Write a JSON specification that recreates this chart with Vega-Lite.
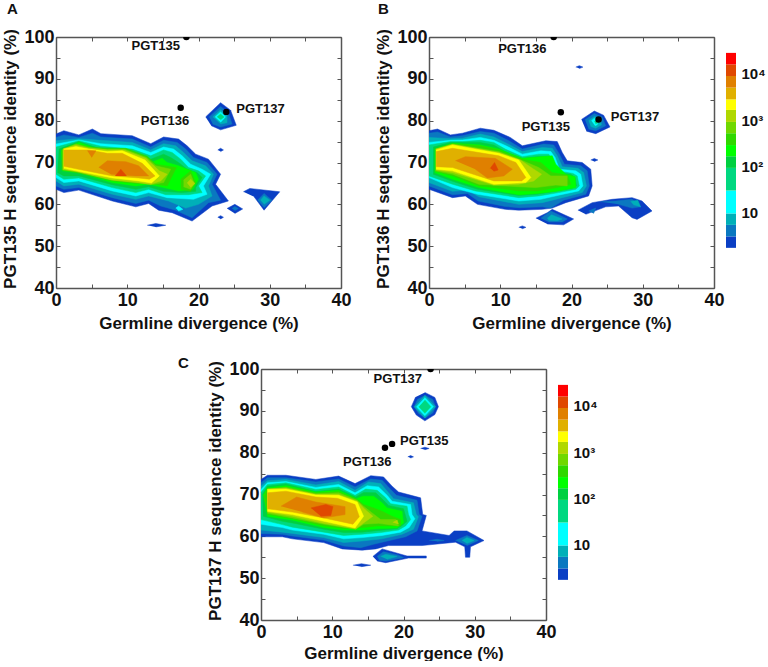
{
"$schema":"https://vega.github.io/schema/vega-lite/v6.json",
"background":"white",
"padding":{"left":1,"top":2,"right":5,"bottom":0},
"bounds":"flush",
"spacing":332,
"config":{"view":{"stroke":null},"font":"Liberation Sans","concat":{"spacing":12},
"axis":{"domainColor":"#555555","domainWidth":1.5,"tickColor":"#555555","tickWidth":1,"tickSize":-4,"grid":false,"labelFont":"Liberation Sans","labelFontWeight":"bold","labelFontSize":18,"labelColor":"#111111","titleFont":"Liberation Sans","titleFontWeight":"bold","titleFontSize":17,"titleColor":"#111111","labelPadding":7,"labelBound":false,"labelFlush":false,"labelOverlap":false},
"title":{"font":"Liberation Sans","fontWeight":"bold","fontSize":15,"color":"#111111","anchor":"start","frame":"group"}},
"datasets":{
"contours":[
{"panel":"A","shape":"A1","level":1,"x":[0,1.1,3.2,5.1,6.3,10.7,13.3,15.1,17.2,18.4,19.6,21.4,23.1,22.4,24.2,21.9,19.1,16.3,14.4,13,11.2,7.9,3.2,1.1,0],"y":[76.8,77.6,76.6,78,76.9,76.4,74.5,76.1,75.6,74,72,70.8,67.2,64.8,60.8,59.6,56,58,58.6,60.2,59.4,60.8,63.4,62.8,63.6]},
{"panel":"A","shape":"A2","level":2,"x":[0,1.1,3.2,5.1,6.3,10.7,13.3,15.1,17,18.2,19.3,21.2,22.6,21.9,23.1,21.4,19.1,16.8,14.7,13,11.2,7.9,3.2,1.1,0],"y":[76,76.6,76,77,76.1,75.6,73.7,75.3,74.8,73.2,71.2,70,67.2,64.8,61,60.4,56.8,58.6,59.6,61,60.2,61.6,64,63.6,64.4]},
{"panel":"A","shape":"A3","level":3,"x":[0,3.2,6.3,10.7,13.3,15.1,16.8,17.9,19.1,21,22.1,21.4,21.9,20,18.2,15.8,13,11.2,7.9,3.2,1.1,0],"y":[75.2,75.7,75.3,74.8,73,74.5,74,72.4,70.4,69.2,67.2,64.4,62,60,59.1,60.8,62,61.2,62.4,64.8,64.4,65.6]},
{"panel":"A","shape":"A4","level":4,"x":[0,3.2,6.3,10.7,13.3,15.1,16.5,17.7,18.9,20.5,21.7,20.7,21.2,19.3,15.6,13,11.2,7.9,3.2,1.1,0],"y":[74.4,75.4,74.5,74,72.4,73.7,73.2,71.6,69.6,68.4,67.2,64.4,62.4,61.2,61.6,62.8,62,63.2,65.6,65.2,66.4]},
{"panel":"A","shape":"A4b","level":4,"x":[16.8,17.2,17.8,17.2],"y":[59.1,59.6,58.8,58.4]},
{"panel":"A","shape":"A5","level":5,"x":[0,3.2,6.3,10.7,13.3,15.1,16.3,17.5,18.6,20,21,20,20.5,18.6,15.4,13,11.2,7.9,3.2,1.1,0],"y":[73.7,75.2,73.9,73.2,71.6,73,72.4,70.8,68.8,68,66.8,64.4,62.8,62.3,62.3,63.6,62.8,64,66.3,66,67.2]},
{"panel":"A","shape":"A6","level":6,"x":[0.4,3.2,6.3,10.7,13.3,15.1,16.1,17.2,18.4,19.8,20.5,19.6,19.6,17.7,15.1,13,11.2,7.9,3.2,1.1,0.2],"y":[73.2,75,73.2,72.6,70.8,72,71.2,70,68.4,67.6,66.4,64,63.1,62.8,63.1,64.2,63.6,64.7,66.8,66.8,67.6]},
{"panel":"A","shape":"A7","level":7,"x":[0.7,3.2,6.5,10.5,13.3,14.9,15.6,17.2,19.6,20,19.2,17.2,15.1,13,11.2,7.9,3.2,0.9],"y":[72.8,74.8,72.8,72.2,70,71,70,69.2,67.6,66,63.6,63.2,64,64.8,64.4,65.2,67.6,68]},
{"panel":"A","shape":"A8","level":8,"x":[0.8,2.8,4.6,7.2,9.8,12.8,14,16.9,15.6,13,11.2,7.9,2.8,0.8],"y":[73,74.5,73.7,73.4,73.4,71.5,69.6,68.8,64.4,65,65,65.6,67.6,68.2]},
{"panel":"A","shape":"A8b","level":8,"x":[17.5,18.9,19.6,18.9,17.5],"y":[66,68,65.2,63.1,63.6]},
{"panel":"A","shape":"A9","level":9,"x":[0.9,2.8,4.6,7.2,9.7,12.7,14,16.1,15.1,13.3,11.2,7.9,2.8,0.9],"y":[73.1,74.4,73.6,73.1,73.1,71.2,69.2,68.4,65.2,64.7,65.2,65.8,67.8,68.3]},
{"panel":"A","shape":"A9b","level":9,"x":[17.9,18.9,19.4,18.9,17.9],"y":[65.8,67.2,65,63.6,64.2]},
{"panel":"A","shape":"A10","level":10,"x":[1,2.8,4.6,7.2,9.5,12.6,14.5,15.6,14.7,13.3,11.6,7.9,2.8,1],"y":[73.3,74.1,73.4,73,73,71,68,67.2,65.6,64.8,65.2,65.8,67.9,68.3]},
{"panel":"A","shape":"A10b","level":10,"x":[18.4,18.9,19.5,18.9],"y":[65.1,66,65,64]},
{"panel":"A","shape":"A11","level":11,"x":[1.1,2.8,4.6,7.2,9.3,12.5,14.5,13.4,11.6,7.9,2.8,1.1],"y":[73.2,73.8,73.2,72.6,72.8,70.6,66.8,65.1,65.6,66.3,68,68.6]},
{"panel":"A","shape":"A12","level":12,"x":[1.1,4.6,7.2,9.3,12.1,13.9,13.1,11.6,7.9,2.8,1.1],"y":[73,73,72.2,72.2,69.8,66.8,66,66.3,66.8,68.5,69.1]},
{"panel":"A","shape":"A13","level":13,"x":[6,7.2,9.8,11.6,13,11.2,7.7],"y":[68.8,70.4,70.2,69.2,66.8,66.8,67.2]},
{"panel":"A","shape":"A13b","level":13,"x":[4.4,5.6,5],"y":[72.8,72.8,71.2]},
{"panel":"A","shape":"A14","level":14,"x":[8.3,9.1,9.9],"y":[66.8,68.4,66.8]},
{"panel":"A","shape":"Ai1","level":1,"x":[21,23.1,24.5,25.3,23.1,21.8],"y":[80.9,84.3,82.5,78.9,77.8,78.8]},
{"panel":"A","shape":"Ai2","level":2,"x":[21.5,23.1,24.2,24.7,23.1,22],"y":[80.9,83.4,81.9,79.2,78.5,79.2]},
{"panel":"A","shape":"Ai3","level":3,"x":[22,23.1,24,24,23.1],"y":[80.9,82.6,81.2,79.5,79.2]},
{"panel":"A","shape":"Ai4","level":4,"x":[22.3,23.1,23.8,23.1],"y":[80.9,82.1,80.9,79.6]},
{"panel":"A","shape":"Ai5","level":5,"x":[22.6,23.1,23.6,23.1],"y":[80.9,81.6,80.9,80.2]},
{"panel":"A","shape":"Ar1","level":1,"x":[26.3,27.2,31.4,29.2,27.8],"y":[63,63.8,63,58.6,61.8]},
{"panel":"A","shape":"Ar2","level":2,"x":[28.3,29.2,30.3,29.2],"y":[61,62.6,61,59.2]},
{"panel":"A","shape":"Ar3","level":3,"x":[28.7,29.2,30,29.2],"y":[61,62,61,60]},
{"panel":"A","shape":"Ad1","level":1,"x":[24,25.1,26.2,25.1],"y":[59,60,58.9,57.8]},
{"panel":"A","shape":"Ad2","level":2,"x":[24.7,25.1,25.6,25.1],"y":[59,59.5,59,58.5]},
{"panel":"A","shape":"As1","level":1,"x":[22.7,23.1,23.5,23.1],"y":[56.9,57.3,56.9,56.5]},
{"panel":"A","shape":"As2","level":1,"x":[22.7,23.1,23.5,23.1],"y":[73,73.4,73,72.6]},
{"panel":"A","shape":"As3","level":1,"x":[12.8,14,15.4,14],"y":[55,55.4,55,54.6]},
{"panel":"B","shape":"B1","level":1,"x":[0,1.2,3,4.7,7.2,9.1,11.4,13.1,16.4,18,18.7,19.4,21.5,22.7,22.9,22.4,19.2,17.3,15.9,12.6,10.7,6.8,5.1,3.3,0],"y":[77.6,78,76.6,77,78.2,77.7,76,74,75.2,75,72.4,70.4,70,68.4,64.4,62,60.4,59.1,58.8,58.6,58.8,60,62,61.6,63.6]},
{"panel":"B","shape":"B2","level":2,"x":[0,1.2,3,4.7,7.2,9.1,11.2,13.1,16.1,17.5,18.3,19,21.3,22.2,22.5,22,18.9,17.1,15.9,12.6,10.7,6.9,5.4,3.3,0],"y":[77,77.3,76.1,76.4,77.4,77,75.2,73.2,74.4,74.2,72,69.6,69.2,68,64.4,62.4,61,59.1,59.4,59.2,59.5,60.8,62.6,62.3,64.4]},
{"panel":"B","shape":"B3","level":3,"x":[0,3,4.7,7.2,9.1,11,13.1,15.9,17.3,18,18.7,20.9,21.7,22.1,21.5,18.7,15.9,12.6,7,5.4,3.3,0],"y":[76,75.7,75.8,76.8,76.1,74.5,72.6,73.6,73.4,71.6,69,68.6,67.6,64.4,62.8,61.6,60.4,60,61.8,63.4,63.1,65.2]},
{"panel":"B","shape":"B4","level":4,"x":[0,3,4.7,7.2,9.1,10.8,13.1,15.7,17.1,17.7,18.3,20.6,21.3,21.6,21,18.5,15.7,12.6,6.8,3.3,0],"y":[74.8,75.3,75.4,76,75.3,74,72,72.8,72.6,71.2,68.4,68,67.2,64.4,63.2,62.3,61.2,60.8,62.4,64,66.4]},
{"panel":"B","shape":"B5","level":5,"x":[0,3,4.7,7.2,9.1,10.7,13.1,15.4,16.8,17.4,18,20.2,20.8,21.1,20.6,18.2,15.4,12.6,6.5,3.3,0],"y":[74.2,75,75,75.3,74.8,73.2,71.4,72,72,70.6,68,67.4,66.8,64.4,63.6,62.8,62,61.6,63.2,64.8,66.8]},
{"panel":"B","shape":"B6","level":6,"x":[0.6,3,4.7,7.2,9.1,10.7,13.1,15.2,16.6,17.2,17.8,19.9,20.5,20.7,20.2,18,15.2,12.6,6.8,3.3,0.6],"y":[73.7,74.8,74.8,74.8,74.2,72.6,71,71.4,71.4,70,67.6,67.2,66.4,64.4,63.9,63.2,62.4,62.1,63.6,65.5,67.2]},
{"panel":"B","shape":"B7","level":7,"x":[0.8,3.3,7.2,9.8,13.1,17.3,17.8,19.2,20.5,20.6,18.2,15.2,12.6,7,3.3,0.8],"y":[73.2,74.6,74.2,73.2,71,71.6,69.6,67.2,66.6,64,63.2,62.6,62.3,64,66,67.6]},
{"panel":"B","shape":"B8","level":8,"x":[0.9,3.3,7.2,9.8,13.1,15.7,17.3,19.4,19.9,18,15.2,12.6,7,3.3,0.9],"y":[73.2,74.5,74,73,70.8,70,67.6,67,64.8,64,63.2,63.2,64.4,66.8,67.9]},
{"panel":"B","shape":"B9","level":9,"x":[0.9,3.3,9.8,12.9,15.4,17.1,19.4,19.4,17.8,15,12.6,7,3.3,0.9],"y":[73.2,74.4,72.6,70.6,68.8,66.8,66.8,64.4,64.6,64,64.2,64.8,67.2,68]},
{"panel":"B","shape":"B10","level":10,"x":[1,3.3,9.8,12.8,14.7,15.8,14.7,12.6,9.1,3.3,1],"y":[73.2,74.3,72.4,70.6,68.4,67.2,65.6,64.8,64.6,67.6,68.2]},
{"panel":"B","shape":"B11","level":11,"x":[1,3.3,9.8,12.6,14.3,13.6,9.1,3.3,1],"y":[73,74.2,72.2,70.6,66.4,65.2,64.8,68,68.4]},
{"panel":"B","shape":"B12","level":12,"x":[1,3.3,9.8,12.2,13.6,13,9.1,3.3,1],"y":[72.6,73.4,71.6,70,66.4,65.6,65.6,68.8,69]},
{"panel":"B","shape":"B13","level":13,"x":[3.7,5.1,9.3,11.7,10.5,8.2,6.5],"y":[70.4,71.4,71,68.4,66.8,66.3,68.4]},
{"panel":"B","shape":"B14","level":14,"x":[8.6,9.2,9.7,9.1],"y":[68.6,70,68.2,67.9]},
{"panel":"B","shape":"Bl1","level":1,"x":[15,16.6,17.3,20.3,18.9,16.6],"y":[56.7,58,58.8,56.5,55.1,55.3]},
{"panel":"B","shape":"Bl2","level":2,"x":[15.7,17.1,19.4,18.7,16.8],"y":[56.7,58.4,56.5,55.8,55.8]},
{"panel":"B","shape":"Bl3","level":3,"x":[16.6,17.2,18.7,18,16.8],"y":[56.7,57.5,56.5,56.1,56.2]},
{"panel":"B","shape":"Br1","level":1,"x":[20.9,22.9,25.7,28.5,29.9,31.3,29.2,28.5,26.6,24.8,22],"y":[58.6,60.4,61.2,61.6,60.8,58.4,56.4,56.8,59.6,59.4,57.6]},
{"panel":"B","shape":"Br2","level":2,"x":[22.4,23.4,23.1],"y":[58.4,59.1,57.8]},
{"panel":"B","shape":"Br2b","level":2,"x":[24.1,26.2,28.5,29.7,28.5,26.6],"y":[60.6,60.8,61.2,59.4,59.1,60]},
{"panel":"B","shape":"Br3","level":3,"x":[28.3,29.3,29.7,28.7],"y":[60.7,61,59.4,59.9]},
{"panel":"B","shape":"Bs1","level":1,"x":[22.7,23.2,23.7,23.2],"y":[70.6,70.95,70.6,70.25]},
{"panel":"B","shape":"Bs2","level":1,"x":[12.6,13.1,13.6,13.1],"y":[54.5,54.85,54.5,54.15]},
{"panel":"B","shape":"Bs3","level":1,"x":[20.6,21.1,21.6,21.1],"y":[92.8,93.15,92.8,92.45]},
{"panel":"B","shape":"Bi1","level":1,"x":[21.4,23.2,24.5,25.4,23.4,22.1],"y":[80.3,82.3,81.3,78.5,76.9,77.5]},
{"panel":"B","shape":"Bi2","level":2,"x":[21.9,23.2,24.3,24.8,23.4,22.4],"y":[80.2,81.7,80.9,78.8,77.6,78]},
{"panel":"B","shape":"Bi3","level":3,"x":[22.4,23.2,24,24.2,23.4,22.7],"y":[80,81,80.5,79,78.2,78.6]},
{"panel":"B","shape":"Bi4","level":4,"x":[22.8,23.2,23.8,23.6,23.3],"y":[80,80.6,80,79,78.8]},
{"panel":"B","shape":"Bi5","level":5,"x":[23.2,23.7,23.8,23.4],"y":[79.8,80.2,79.6,79.2]},
{"panel":"C","shape":"C1","level":1,"x":[0,0.9,3.5,7.7,10.9,13.2,15.4,17.2,18.4,19.3,22.4,22.7,23.2,22.6,26.4,27.1,28.9,31.3,29.4,29.3,28.7,28.6,27.3,22.6,17.9,16.1,14.2,11.4,8.8,4.4,3,0],"y":[73.6,74.6,74.6,73.6,74.4,72.6,74.5,74.2,72,70.6,69.2,65.2,65,61.3,60.2,61.3,61.3,59,57.5,55,55,57.5,58.6,57.8,57.8,57,56.7,57,58.5,59.4,59.9,59.9]},
{"panel":"C","shape":"C2","level":2,"x":[0,0.9,3.5,7.7,10.9,13.2,15.4,17,18.2,19,21.9,22.2,22.6,21.9,20.3,17,15.8,14,11.6,8.8,4.4,3,0],"y":[72.8,74,74,73,73.7,71.8,73.7,73.4,71.2,69.8,68.6,65.2,64.8,61.3,59.9,58.6,58.1,57.3,57.7,59.1,60.1,60.5,60.7]},
{"panel":"C","shape":"C3","level":3,"x":[0,0.9,3.5,7.7,10.9,13.2,15.1,16.8,17.9,18.6,21.4,21.8,22.1,21.4,19.8,17,14.2,11.6,8.8,4.4,3,0],"y":[72,73.3,73.6,72.3,73.1,71,73,72.6,70.4,69,68,65.2,64.7,61.7,60.5,59.4,58.9,58.5,59.7,60.7,61,61.5]},
{"panel":"C","shape":"C4","level":4,"x":[0,0.9,3.5,7.7,10.9,13.2,14.9,16.5,17.7,18.4,21,21.2,21.6,20.8,19.6,17,14.2,11.6,8.8,4.4,3,0],"y":[71.2,72.8,73.1,71.7,72.4,70.4,72.1,71.8,69.8,68.4,67.6,65.2,64.2,62.1,61,60.2,59.7,59.4,60.5,61.5,62.1,62.9]},
{"panel":"C","shape":"C5","level":5,"x":[0,0.9,3.5,7.7,10.9,13.2,14.7,16.3,17.5,18.2,20.5,20.7,21,20.3,19.3,16.8,14.2,11.6,8.8,4.4,3,0],"y":[70.5,72.4,72.8,71.2,71.8,69.8,71.3,71,69.2,67.8,67.2,65.2,64,62.5,61.5,60.9,60.5,60.2,61,62.2,62.8,64]},
{"panel":"C","shape":"C6","level":6,"x":[0.2,0.9,3.5,7.7,10.9,13.3,14.4,16.1,17.2,17.9,20,20.3,20.5,19.8,19.1,16.5,14.2,11.6,8.8,4.4,3,0.3],"y":[70,72,72.5,70.7,71.3,69.4,70.5,70.4,68.6,67.4,66.6,64.8,63.6,62.6,61.8,61.4,61,60.9,61.7,63.2,63.6,64.8]},
{"panel":"C","shape":"C7","level":7,"x":[0.3,0.9,3.5,7.7,10.9,13.4,14.3,15.8,17,17.7,19.8,19.9,20,19.1,16.3,14.2,11.6,8.8,4.4,0.9],"y":[69.8,71.6,72.1,70.6,71,69,69.6,69.6,68,66.8,66,64.4,63.2,62,61.8,61.5,61.5,62.1,63.9,64.8]},
{"panel":"C","shape":"C8","level":8,"x":[0.4,0.9,3.5,7.7,10.9,13.5,14.4,15.8,17,18.4,19.6,19.6,16.3,14.4,11.6,8.8,4.4,0.9],"y":[69.6,71.4,71.8,70.4,70.7,68.8,67.6,66.8,66,64.8,64,62.5,62.5,62.1,61.9,62.5,64.2,65.2]},
{"panel":"C","shape":"C9","level":9,"x":[0.9,3.5,7.7,10.9,13.5,14.4,15.6,16.8,18.9,19.3,16.5,14.4,13.3,8.8,4.4,0.9],"y":[71.3,71.7,70.2,70.4,68.6,67.2,65.6,64,64,62.5,63.1,62.9,61.7,62.9,64.4,65.5]},
{"panel":"C","shape":"C10","level":10,"x":[0.9,3.5,7.7,10.9,13.5,14.6,15.7,14.4,13.3,8.8,4.4,0.9],"y":[71.3,71.5,70,70,68.4,66.4,64.8,63.2,61.8,63.1,64.8,65.8]},
{"panel":"C","shape":"C10b","level":10,"x":[18.5,19.1,19.3],"y":[63.3,63.9,62.9]},
{"panel":"C","shape":"C11","level":11,"x":[0.9,3.5,7.7,10.9,13.5,14.4,13.2,8.8,4.4,0.9],"y":[71.2,71.3,69.9,69.8,68.2,64.8,62,63.6,65.2,66]},
{"panel":"C","shape":"C12","level":12,"x":[0.9,3.5,7.7,10.7,13.2,13.8,12.9,8.8,4.4,0.9],"y":[70.4,70.8,69.4,69.1,67.6,64.7,62.9,64.4,65.8,66.6]},
{"panel":"C","shape":"C13","level":13,"x":[2.8,5,7.7,11.8,11.8,8.8,5.8],"y":[67.2,69.4,68.2,67.1,65.2,64.4,65.8]},
{"panel":"C","shape":"C14","level":14,"x":[7,9.1,10.1,9.8,8.4],"y":[66.8,67.6,67.1,65,64.8]},
{"panel":"C","shape":"Cl1","level":1,"x":[15.7,17,20.5,23.2,23.2,20.7,17.5,16.3],"y":[55.2,57,55.3,55.3,54.8,54.8,53.7,54.1]},
{"panel":"C","shape":"Cl2","level":2,"x":[16.3,17.2,19.3,20,17.5,16.6],"y":[55.2,56.3,55.5,54.9,54.1,54.3]},
{"panel":"C","shape":"Cl3","level":3,"x":[16.8,17.5,19.1,17.7],"y":[55.2,55.7,55.2,54.5]},
{"panel":"C","shape":"Cb1","level":1,"x":[12.9,14.1,15.4,14.1],"y":[53.1,53.45,53.1,52.75]},
{"panel":"C","shape":"Cr2","level":2,"x":[27.3,28.9,30.5,28.9],"y":[59,60.2,59,57.8]},
{"panel":"C","shape":"Cr3","level":3,"x":[28.2,28.9,29.9,28.9],"y":[59,59.7,59,58.3]},
{"panel":"C","shape":"Cr2b","level":2,"x":[23.6,24.7,25.7,24.7],"y":[59,59.3,59,58.8]},
{"panel":"C","shape":"Ci1","level":1,"x":[23,24.4,24.9,24.4,23,21.8,21.1,21.7],"y":[94.4,93.2,91,89.1,87.6,89,91,93.3]},
{"panel":"C","shape":"Ci2","level":2,"x":[23,24.1,24.5,24.1,23,22.1,21.5,22],"y":[93.7,92.7,91,89.5,88.3,89.4,91,92.8]},
{"panel":"C","shape":"Ci3","level":3,"x":[23,24.5,23,21.5],"y":[93.7,91,88.3,91]},
{"panel":"C","shape":"Ci4","level":4,"x":[23,24.2,23,21.8],"y":[93.2,91,88.8,91]},
{"panel":"C","shape":"Ci5","level":5,"x":[23,23.85,23,22.15],"y":[92.6,91,89.4,91]},
{"panel":"C","shape":"Cs1","level":1,"x":[22.4,23,23.6,23],"y":[81,81.3,81,80.7]},
{"panel":"C","shape":"Cs2","level":1,"x":[20.6,21,21.4,21],"y":[79,79.3,79,78.7]}
],
"dots":[
{"panel":"A","x":18.3,"y":100},{"panel":"A","x":17.5,"y":83.1},{"panel":"A","x":23.9,"y":82.1},
{"panel":"B","x":17.5,"y":100},{"panel":"B","x":18.5,"y":82},{"panel":"B","x":23.8,"y":80.3},
{"panel":"C","x":23.8,"y":100},{"panel":"C","x":18.4,"y":82.1},{"panel":"C","x":17.4,"y":81.2}
],
"labels":[
{"panel":"A","name":"PGT135","x":14,"y":97.8},{"panel":"A","name":"PGT136","x":15.3,"y":79.9},{"panel":"A","name":"PGT137","x":28.7,"y":82.7},
{"panel":"B","name":"PGT136","x":13.1,"y":97.1},{"panel":"B","name":"PGT135","x":16.4,"y":78.5},{"panel":"B","name":"PGT137","x":28.9,"y":80.8},
{"panel":"C","name":"PGT137","x":19.2,"y":97.5},{"panel":"C","name":"PGT135","x":22.9,"y":82.7},{"panel":"C","name":"PGT136","x":14.9,"y":77.8}
],
"levels":[
{"level":1,"low":1.76,"high":3.1},{"level":2,"low":3.1,"high":5.5},{"level":3,"low":5.5,"high":9.7},{"level":4,"low":9.7,"high":30.3},{"level":5,"low":30.3,"high":93},{"level":6,"low":93,"high":166},{"level":7,"low":166,"high":289},{"level":8,"low":289,"high":520},{"level":9,"low":520,"high":910},{"level":10,"low":910,"high":1650},{"level":11,"low":1650,"high":2790},{"level":12,"low":2790,"high":5000},{"level":13,"low":5000,"high":8900},{"level":14,"low":8900,"high":15800},{"level":15,"low":15800,"high":28000}
]
},
"vconcat":[
{"bounds":"flush","spacing":88,"hconcat":[
{"width":285,"height":251,"title":{"text":"A","dx":-49,"dy":-7},
"layer":[
{"data":{"name":"contours"},"transform":[{"filter":"datum.panel=='A'"},{"flatten":["x","y"]},{"window":[{"op":"row_number","as":"vertex"}]}],
"mark":{"type":"line","strokeWidth":0.5,"interpolate":"linear"},
"encoding":{"x":{"field":"x","type":"quantitative","scale":{"domain":[0,40],"nice":false},"title":"Germline divergence (%)","axis":{"values":[0,5,10,15,20,25,30,35,40],"labelExpr":"datum.value%10==0?datum.label:''","titlePadding":6}},
"y":{"field":"y","type":"quantitative","scale":{"domain":[40,100],"nice":false},"title":"PGT135 H sequence identity (%)","axis":{"values":[40,45,50,55,60,65,70,75,80,85,90,95,100],"labelExpr":"datum.value%10==0?datum.label:''","labelPadding":6,"titlePadding":4,"titleY":121.5}},
"detail":{"field":"shape"},"order":{"field":"vertex"},
"fill":{"field":"level","type":"ordinal","scale":{"domain":[1,2,3,4,5,6,7,8,9,10,11,12,13,14,15],"range":["#0a3fc4","#0a78c0","#00b0b8","#00ffff","#00d880","#00d040","#00ff00","#30d800","#70d800","#b0d800","#ffff00","#e0b000","#e08000","#e04800","#ff0000"]},"legend":null},
"stroke":{"field":"level","type":"ordinal","scale":{"domain":[1,2,3,4,5,6,7,8,9,10,11,12,13,14,15],"range":["#0a3fc4","#0a78c0","#00b0b8","#00ffff","#00d880","#00d040","#00ff00","#30d800","#70d800","#b0d800","#ffff00","#e0b000","#e08000","#e04800","#ff0000"]},"legend":null}}},
{"data":{"name":"dots"},"transform":[{"filter":"datum.panel=='A'"}],"mark":{"type":"circle","size":42,"color":"black","opacity":1,"clip":true},
"encoding":{"x":{"field":"x","type":"quantitative","scale":{"domain":[0,40],"nice":false},"axis":{"orient":"top","values":[0,5,10,15,20,25,30,35,40],"labels":false,"title":null}},
"y":{"field":"y","type":"quantitative","scale":{"domain":[40,100],"nice":false},"axis":{"orient":"right","values":[40,45,50,55,60,65,70,75,80,85,90,95,100],"labels":false,"title":null}}}},
{"data":{"name":"labels"},"transform":[{"filter":"datum.panel=='A'"}],"mark":{"type":"text","font":"Liberation Sans","fontWeight":"bold","fontSize":13,"color":"#111111"},
"encoding":{"x":{"field":"x","type":"quantitative","scale":{"domain":[0,40],"nice":false},"axis":null},"y":{"field":"y","type":"quantitative","scale":{"domain":[40,100],"nice":false},"axis":null},"text":{"field":"name"}}}
],"resolve":{"axis":{"x":"independent","y":"independent"}}},
{"bounds":"flush","spacing":12,"hconcat":[
{"width":285,"height":251,"title":{"text":"B","dx":-51,"dy":-7},
"layer":[
{"data":{"name":"contours"},"transform":[{"filter":"datum.panel=='B'"},{"flatten":["x","y"]},{"window":[{"op":"row_number","as":"vertex"}]}],
"mark":{"type":"line","strokeWidth":0.5,"interpolate":"linear"},
"encoding":{"x":{"field":"x","type":"quantitative","scale":{"domain":[0,40],"nice":false},"title":"Germline divergence (%)","axis":{"values":[0,5,10,15,20,25,30,35,40],"labelExpr":"datum.value%10==0?datum.label:''","titlePadding":6}},
"y":{"field":"y","type":"quantitative","scale":{"domain":[40,100],"nice":false},"title":"PGT136 H sequence identity (%)","axis":{"values":[40,45,50,55,60,65,70,75,80,85,90,95,100],"labelExpr":"datum.value%10==0?datum.label:''","labelPadding":6,"titlePadding":4,"titleY":121.5}},
"detail":{"field":"shape"},"order":{"field":"vertex"},
"fill":{"field":"level","type":"ordinal","scale":{"domain":[1,2,3,4,5,6,7,8,9,10,11,12,13,14,15],"range":["#0a3fc4","#0a78c0","#00b0b8","#00ffff","#00d880","#00d040","#00ff00","#30d800","#70d800","#b0d800","#ffff00","#e0b000","#e08000","#e04800","#ff0000"]},"legend":null},
"stroke":{"field":"level","type":"ordinal","scale":{"domain":[1,2,3,4,5,6,7,8,9,10,11,12,13,14,15],"range":["#0a3fc4","#0a78c0","#00b0b8","#00ffff","#00d880","#00d040","#00ff00","#30d800","#70d800","#b0d800","#ffff00","#e0b000","#e08000","#e04800","#ff0000"]},"legend":null}}},
{"data":{"name":"dots"},"transform":[{"filter":"datum.panel=='B'"}],"mark":{"type":"circle","size":42,"color":"black","opacity":1,"clip":true},
"encoding":{"x":{"field":"x","type":"quantitative","scale":{"domain":[0,40],"nice":false},"axis":{"orient":"top","values":[0,5,10,15,20,25,30,35,40],"labels":false,"title":null}},
"y":{"field":"y","type":"quantitative","scale":{"domain":[40,100],"nice":false},"axis":{"orient":"right","values":[40,45,50,55,60,65,70,75,80,85,90,95,100],"labels":false,"title":null}}}},
{"data":{"name":"labels"},"transform":[{"filter":"datum.panel=='B'"}],"mark":{"type":"text","font":"Liberation Sans","fontWeight":"bold","fontSize":13,"color":"#111111"},
"encoding":{"x":{"field":"x","type":"quantitative","scale":{"domain":[0,40],"nice":false},"axis":null},"y":{"field":"y","type":"quantitative","scale":{"domain":[40,100],"nice":false},"axis":null},"text":{"field":"name"}}}
],"resolve":{"axis":{"x":"independent","y":"independent"}}},
{"width":10,"height":251,"data":{"name":"levels"},"mark":{"type":"rect"},
"encoding":{"y":{"field":"low","type":"quantitative","scale":{"type":"log","domain":[0.24,61600],"nice":false},"title":null,"axis":{"orient":"right","values":[10,100,1000,10000],"labelExpr":"datum.value==10?'10':datum.value==100?'10²':datum.value==1000?'10³':'10⁴'","domain":false,"ticks":false,"labelPadding":5,"labelFontSize":15}},
"y2":{"field":"high"},
"fill":{"field":"level","type":"ordinal","scale":{"domain":[1,2,3,4,5,6,7,8,9,10,11,12,13,14,15],"range":["#0a3fc4","#0a78c0","#00b0b8","#00ffff","#00d880","#00d040","#00ff00","#30d800","#70d800","#b0d800","#ffff00","#e0b000","#e08000","#e04800","#ff0000"]},"legend":null}}}
]}
]},
{"bounds":"flush","spacing":12,"hconcat":[
{"width":193,"height":10,"data":{"values":[{"blank":1}]},"mark":{"type":"point","opacity":0}},
{"bounds":"flush","spacing":12,"hconcat":[
{"width":285,"height":251,"title":{"text":"C","dx":-83,"dy":15},
"layer":[
{"data":{"name":"contours"},"transform":[{"filter":"datum.panel=='C'"},{"flatten":["x","y"]},{"window":[{"op":"row_number","as":"vertex"}]}],
"mark":{"type":"line","strokeWidth":0.5,"interpolate":"linear"},
"encoding":{"x":{"field":"x","type":"quantitative","scale":{"domain":[0,40],"nice":false},"title":"Germline divergence (%)","axis":{"values":[0,5,10,15,20,25,30,35,40],"labelExpr":"datum.value%10==0?datum.label:''","titlePadding":4}},
"y":{"field":"y","type":"quantitative","scale":{"domain":[40,100],"nice":false},"title":"PGT137 H sequence identity (%)","axis":{"values":[40,45,50,55,60,65,70,75,80,85,90,95,100],"labelExpr":"datum.value%10==0?datum.label:''","labelPadding":6,"titlePadding":4,"titleY":121.5}},
"detail":{"field":"shape"},"order":{"field":"vertex"},
"fill":{"field":"level","type":"ordinal","scale":{"domain":[1,2,3,4,5,6,7,8,9,10,11,12,13,14,15],"range":["#0a3fc4","#0a78c0","#00b0b8","#00ffff","#00d880","#00d040","#00ff00","#30d800","#70d800","#b0d800","#ffff00","#e0b000","#e08000","#e04800","#ff0000"]},"legend":null},
"stroke":{"field":"level","type":"ordinal","scale":{"domain":[1,2,3,4,5,6,7,8,9,10,11,12,13,14,15],"range":["#0a3fc4","#0a78c0","#00b0b8","#00ffff","#00d880","#00d040","#00ff00","#30d800","#70d800","#b0d800","#ffff00","#e0b000","#e08000","#e04800","#ff0000"]},"legend":null}}},
{"data":{"name":"dots"},"transform":[{"filter":"datum.panel=='C'"}],"mark":{"type":"circle","size":42,"color":"black","opacity":1,"clip":true},
"encoding":{"x":{"field":"x","type":"quantitative","scale":{"domain":[0,40],"nice":false},"axis":{"orient":"top","values":[0,5,10,15,20,25,30,35,40],"labels":false,"title":null}},
"y":{"field":"y","type":"quantitative","scale":{"domain":[40,100],"nice":false},"axis":{"orient":"right","values":[40,45,50,55,60,65,70,75,80,85,90,95,100],"labels":false,"title":null}}}},
{"data":{"name":"labels"},"transform":[{"filter":"datum.panel=='C'"}],"mark":{"type":"text","font":"Liberation Sans","fontWeight":"bold","fontSize":13,"color":"#111111"},
"encoding":{"x":{"field":"x","type":"quantitative","scale":{"domain":[0,40],"nice":false},"axis":null},"y":{"field":"y","type":"quantitative","scale":{"domain":[40,100],"nice":false},"axis":null},"text":{"field":"name"}}}
],"resolve":{"axis":{"x":"independent","y":"independent"}}},
{"width":10,"height":251,"data":{"name":"levels"},"mark":{"type":"rect"},
"encoding":{"y":{"field":"low","type":"quantitative","scale":{"type":"log","domain":[0.24,61600],"nice":false},"title":null,"axis":{"orient":"right","values":[10,100,1000,10000],"labelExpr":"datum.value==10?'10':datum.value==100?'10²':datum.value==1000?'10³':'10⁴'","domain":false,"ticks":false,"labelPadding":5,"labelFontSize":15}},
"y2":{"field":"high"},
"fill":{"field":"level","type":"ordinal","scale":{"domain":[1,2,3,4,5,6,7,8,9,10,11,12,13,14,15],"range":["#0a3fc4","#0a78c0","#00b0b8","#00ffff","#00d880","#00d040","#00ff00","#30d800","#70d800","#b0d800","#ffff00","#e0b000","#e08000","#e04800","#ff0000"]},"legend":null}}}
]}
]}
]
}
